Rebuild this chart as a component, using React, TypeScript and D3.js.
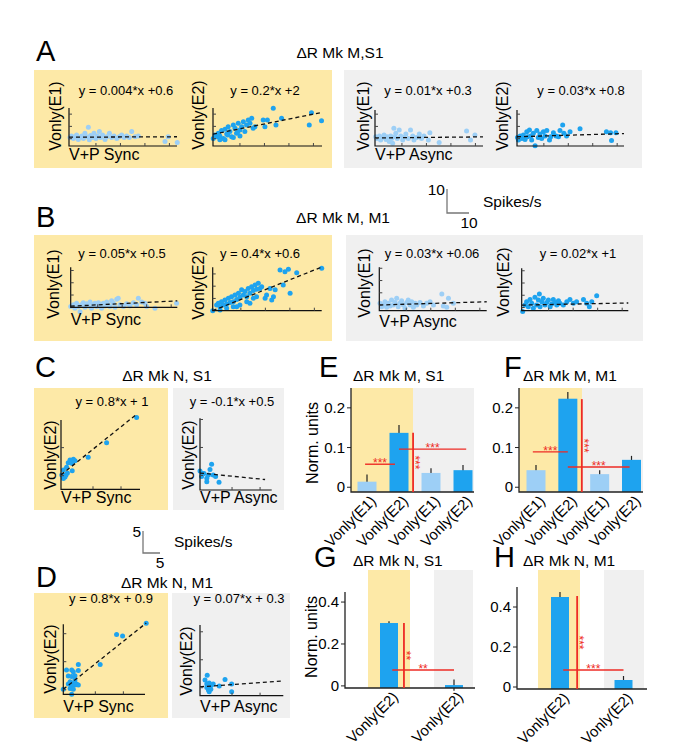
import React from 'react'
import * as d3 from 'd3'

type Pt = [number, number]

const SANS = '"Liberation Sans", Arial, Helvetica, sans-serif'
const YELLOW = '#fde9a7'
const GREY = '#f0f0f0'
const LIGHT = '#9dcff6'
const BLUE = '#1ea3ef'
const RED = '#ee2b24'

// scatter points, spikes/s: [V+P response, Vonly response]
const A_SYNC_E1: Pt[] = [[-0.6,0.5],[0,1.1],[0.8,0.1],[1.5,0.8],[2.1,1.5],[2.8,-0.3],[3.5,0.5],[4.2,1.1],[4.9,0.1],[5.5,2.2],[6.2,0.8],[6.9,4.6],[7.3,-0.5],[7.8,1.3],[8.6,0.5],[9.2,2.2],[10,0.1],[10.6,1.1],[11.4,2.9],[11.9,0.5],[12.7,1.5],[13.7,-0.3],[14.4,0.8],[15.5,2.2],[16.4,0.5],[17.4,1.1],[18.5,0.1],[19.5,0.8],[20.5,1.5],[21.5,0.5],[22.5,1.1],[23.6,0.5],[24.6,2.9],[26,0.8],[27.3,1.1],[38.2,-1.2],[39.5,0.8],[43.2,-1.6]]
const A_SYNC_E2: Pt[] = [[-0.9,0.1],[-0.2,1.5],[0.5,0.8],[1.2,2.2],[1.8,1.1],[2.5,3.3],[3.2,0.1],[3.9,3.8],[4.6,1.9],[5.2,4.9],[5.9,2.9],[6.6,0.8],[7.3,5.6],[8,4.2],[8.6,2.2],[9.3,6.3],[10,3.5],[10.7,4.9],[11.4,6.9],[12,2.9],[12.7,5.6],[13.4,7.6],[14.1,6.3],[14.8,8.3],[15.4,4.2],[16.1,4.9],[19.5,7.6],[20.2,4.9],[21.2,7.6],[23.6,12.4],[24.7,5.6],[27,8.3],[38.3,5.6],[39.2,10.6],[43.3,7.3],[3.9,-0.5],[7.3,0.5],[10,1.1],[1.8,-0.5],[5,1.5],[9,2.5]]
const A_ASYNC_E1: Pt[] = [[-0.7,0.8],[-0.2,0.1],[0.8,1.1],[1.3,-0.55],[2.1,0.5],[2.7,1.5],[3.5,-0.3],[4,0.8],[4.8,-1.2],[5.4,1.1],[5.8,0.1],[6.2,-1.9],[6.7,4.2],[7.1,0.8],[7.5,2.2],[8.1,0.1],[8.9,3.5],[9.5,1.1],[10.3,-0.55],[10.8,0.5],[11.6,1.9],[12.6,0.1],[13.5,3.5],[14.4,1.1],[14.9,-0.55],[16,0.5],[17.1,1.9],[18,0.1],[19,1.1],[20.8,-0.55],[21.4,2.45],[25.2,-1.6],[36.4,3.1],[38,-0.55],[39.8,1.5]]
const A_ASYNC_E2: Pt[] = [[-0.8,0.5],[-0.4,-0.55],[0.3,1.1],[1,0.1],[1.6,1.5],[2.3,-0.3],[3,2.85],[3.3,0.8],[4.1,3.5],[4.6,1.1],[5,-0.55],[5.7,2.2],[6.4,-2.9],[7.1,3.3],[7.7,0.5],[8.4,1.9],[9.1,0.1],[9.8,2.85],[10.5,1.1],[11.2,3.3],[12.3,-0.55],[12.8,0.8],[13.9,2.45],[15,1.1],[16,0.8],[16.6,3.3],[17.7,5.6],[18.2,2.2],[19.3,1.1],[20.7,2.85],[24.8,4],[35.6,2.85],[37.3,2.45],[37.7,-0.8],[39.5,2.45]]
const B_SYNC_E1: Pt[] = [[-1,0.3],[0.1,1],[0.7,-0.4],[1.4,1.6],[2.1,0.3],[2.8,-1.8],[3.4,1],[4.1,1.9],[4.8,0],[5.5,1.4],[6.2,0.55],[6.9,2.2],[7.5,-0.4],[8.2,1],[8.9,1.6],[9.6,0.3],[10.3,1.9],[11,1],[11.6,-0.4],[12.3,1.6],[13,0.55],[13.7,2.2],[14.3,1],[15,0.3],[15.7,2.7],[16.4,1.6],[17.1,0],[17.8,3.3],[18.4,3.7],[19.1,1],[20.5,0.3],[21.8,1.4],[23.2,0.55],[24.6,1.9],[25.9,1],[26.6,3.7],[28,2.2],[29.3,1.6],[30,0.3],[33.4,-0.4],[42.2,1.6]]
const B_SYNC_E2: Pt[] = [[-1.5,0],[0.1,2.3],[0.8,3],[1.5,1.65],[2.1,3.7],[2.8,2.3],[3.5,4.4],[4.2,2.7],[4.9,5.05],[5.6,3.3],[6.2,5.7],[6.9,3.7],[7.6,6.4],[8.3,4.6],[9,7.1],[9.6,5.5],[10.3,8.5],[11,6.4],[11.7,7.8],[12.4,5.7],[13,9.1],[13.7,7.1],[14.4,9.8],[15.1,8.2],[15.8,10.5],[16.4,8.7],[17.1,11.2],[17.8,9.1],[18.5,9.8],[19.9,5.05],[20.5,6.4],[21.9,9.1],[22.6,4.4],[23.3,5.7],[24,8.5],[26,16.6],[27.3,10.5],[28,15.9],[29.4,16.9],[30.1,7.1],[32.8,15.5],[43,17.3],[1.5,0.3],[4.2,1],[6.9,1.65],[9.6,2.3],[12.4,3.7],[15.1,5.05],[8.3,1.65],[13.7,3],[16.4,5.7]]
const B_ASYNC_E1: Pt[] = [[-0.7,0.7],[0,-0.65],[0.65,0.03],[1.3,1.4],[2,-0.9],[2.7,0.7],[3.4,-0.4],[4,2.07],[4.7,0.03],[5.4,1],[6.1,2.75],[6.7,-0.65],[7.4,0.7],[8.1,1.8],[8.8,0.03],[9.5,-1.3],[10.2,1],[10.8,2.07],[11.5,0.03],[12.2,1.4],[12.9,-0.9],[13.6,0.7],[14.3,0.03],[15.6,1],[17,-0.4],[18.3,0.7],[19.7,1.4],[21.1,0.03],[24.5,4.5],[25.1,-0.4],[26.5,-0.9],[27.2,2.75],[29.2,0.7]]
const B_ASYNC_E2: Pt[] = [[-0.6,-1.6],[0.35,1.03],[1,2.4],[1.7,0.35],[2.4,3.3],[3.1,1.7],[3.75,-0.3],[4.4,4.2],[5.1,1.03],[5.8,3.1],[6.2,5.5],[6.5,0.35],[7.2,2.4],[7.8,3.75],[8.5,1.03],[9.2,2],[9.9,3.1],[10.6,0.35],[11.2,1.4],[11.9,3.3],[12.6,2],[13.3,1.03],[14,2.8],[14.6,1.7],[16,1.03],[17.4,2.4],[18.7,3.3],[20.1,1.7],[21.4,2.4],[24.2,3.3],[25.5,1.7],[26.6,0.35],[27.6,2.4],[29.6,4.8]]
const C_SYNC_E2: Pt[] = [[17.9,14.5],[10.4,8.2],[5.8,4.6],[1.8,1.2],[0.4,2.1],[0.8,3.2],[1.25,3.9],[2.1,4.1],[1.7,3.1],[-0.4,1.4],[-0.8,0.15],[0,-0.3],[-0.4,-0.7],[0.25,0.15],[0.6,0.7],[2.5,3.7]]
const C_ASYNC_E2: Pt[] = [[-1,1.1],[-0.6,-0.3],[0,0.5],[0.7,-0.7],[1.1,0.1],[1.5,1.5],[1.9,2.8],[2.3,0.1],[2.9,-0.3],[3.75,-1.7],[0.7,-1.6],[-0.3,0.5]]
const D_SYNC_E2: Pt[] = [[19.7,16.6],[12.3,13.8],[13.8,13.4],[8.2,6.3],[2.75,6.3],[-0.2,4.9],[1.1,4.9],[1.5,4.5],[0.25,3.4],[1.1,3.3],[1.9,3.5],[0.7,2],[1.5,1.6],[2.3,1.4],[0.25,1.4],[1.1,0.8],[1.9,1.2],[2.75,1.2],[0.7,0.3],[1.5,0.1],[-1,0.1],[1.1,-1.15],[1.9,2.4],[2.75,4.8]]
const D_ASYNC_E2: Pt[] = [[0.8,3.15],[0.25,1.9],[1.3,1.2],[1.9,0.65],[0.7,0.07],[1.1,-0.6],[1.7,-0.4],[2.3,0.9],[3.8,0.4],[5.25,2.05],[6.9,0.9],[6.9,-1],[1.3,-1],[0.7,0.9],[1.5,0.23]]

// linear fits [slope, intercept] and their printed labels
const FIT_A = [[0.004, 0.6], [0.2, 2], [0.01, 0.3], [0.03, 0.8]]
const FIT_B = [[0.05, 0.5], [0.4, 0.6], [0.03, 0.06], [0.02, 1]]
const FIT_C = [[0.8, 1], [-0.1, 0.5]]
const FIT_D = [[0.8, 0.9], [0.07, 0.3]]
const EQ_A = ['y = 0.004*x +0.6', 'y = 0.2*x +2', 'y = 0.01*x +0.3', 'y = 0.03*x +0.8']
const EQ_B = ['y = 0.05*x +0.5', 'y = 0.4*x +0.6', 'y = 0.03*x +0.06', 'y = 0.02*x +1']
const EQ_C = ['y = 0.8*x + 1', 'y = -0.1*x +0.5']
const EQ_D = ['y = 0.8*x + 0.9', 'y = 0.07*x + 0.3']

// bar panels (normalised units)
const LABELS_4 = ['Vonly(E1)', 'Vonly(E2)', 'Vonly(E1)', 'Vonly(E2)']
const LABELS_2 = ['Vonly(E2)', 'Vonly(E2)']
const E_VALUES = [0.014, 0.137, 0.036, 0.043]
const E_ERRORS = [0.018, 0.02, 0.012, 0.013]
const F_VALUES = [0.043, 0.223, 0.033, 0.069]
const F_ERRORS = [0.013, 0.017, 0.01, 0.01]
const G_VALUES = [0.3, 0.004]
const G_ERRORS = [0.008, 0.027]
const H_VALUES = [0.45, 0.035]
const H_ERRORS = [0.025, 0.02]
const TICKS_EF = [0, 0.1, 0.2]
const TICKS_GH = [0, 0.2, 0.4]
// significance: horizontal [from bar, to bar, level], vertical [at bar, top level]
const E_SIG_H = [[-0.06, 0.875, 0.058], [1, 3.1, 0.096]]
const E_SIG_V = [1.44, 0.137]
const F_SIG_H = [[-0.1, 1, 0.089], [1, 2.94, 0.051]]
const F_SIG_V = [1.44, 0.222]
const G_SIG_H = [[0.05, 1, 0.076]]
const G_SIG_V = [0.23, 0.3]
const H_SIG_H = [[0.05, 1, 0.085]]
const H_SIG_V = [0.27, 0.455]

interface ScatterProps {
  x0: number; x1: number; yTop: number; yBot: number
  xDom: [number, number]; yDom: [number, number]
  pts: Pt[]; fit: number[]; fitTo?: number; color: string
  eq: string; eqX: number; eqY: number
  yLab: string; yLabX: number; yLabY: number
  xLab?: string; xLabY?: number
  step: [number, number]
}

function Scatter(p: ScatterProps) {
  const x = d3.scaleLinear().domain(p.xDom).range([p.x0, p.x1])
  const y = d3.scaleLinear().domain(p.yDom).range([p.yBot, p.yTop])
  const fitLine = d3.line<number>().x(d => x(d)).y(d => y(p.fit[0] * d + p.fit[1]))
  const xTicks = d3.range(p.step[0], p.xDom[1], p.step[0])
  const yTicks = d3.range(0, p.yDom[1], p.step[1]).filter(v => v > p.yDom[0])
  return (
    <g>
      {p.pts.map((d, i) => <circle key={i} cx={x(d[0])} cy={y(d[1])} r={2.5} fill={p.color} />)}
      <path d={fitLine([p.xDom[0], p.fitTo ?? p.xDom[1]]) ?? ''} fill="none" stroke="#111" strokeWidth={1.3} strokeDasharray="4 3" />
      <path d={`M${p.x0},${p.yTop}V${p.yBot}H${p.x1}`} fill="none" stroke="#111" strokeWidth={1.2} />
      {xTicks.map(t => <line key={'x' + t} x1={x(t)} x2={x(t)} y1={p.yBot} y2={p.yBot - 3} stroke="#444" />)}
      {yTicks.map(t => <line key={'y' + t} x1={p.x0} x2={p.x0 + 3} y1={y(t)} y2={y(t)} stroke="#444" />)}
      <text x={p.eqX} y={p.eqY} textAnchor="middle" fontSize={13}>{p.eq}</text>
      <text transform={`translate(${p.yLabX},${p.yLabY}) rotate(-90)`} textAnchor="middle" fontSize={16}>{p.yLab}</text>
      {p.xLab && <text x={p.x0} y={p.xLabY} fontSize={16}>{p.xLab}</text>}
    </g>
  )
}

interface BarProps {
  x0: number; x1: number; yTop: number; yBot: number; yDom: [number, number]
  c0: number; c1: number; bw: number
  vals: number[]; errs: number[]; colors: string[]; labels: string[]
  ticks: number[]; bgs: [number, number, string][]; bgTop: number
  sigH: number[][]; sigV: number[]; stars: string
}

function BarPanel(p: BarProps) {
  const x = d3.scaleLinear().domain([0, p.vals.length - 1]).range([p.c0, p.c1])
  const y = d3.scaleLinear().domain(p.yDom).range([p.yBot, p.yTop])
  const vTop = y(p.sigV[1])
  return (
    <g>
      {p.bgs.map((b, i) => <rect key={i} x={b[0]} y={p.bgTop} width={b[1] - b[0]} height={p.yBot - p.bgTop} fill={b[2]} />)}
      {p.vals.map((v, i) => (
        <line key={'e' + i} x1={x(i)} x2={x(i)} y1={y(v - p.errs[i])} y2={y(v + p.errs[i])} stroke="#222" strokeWidth={1.2} />
      ))}
      {p.vals.map((v, i) => (
        <rect key={'b' + i} x={x(i) - p.bw / 2} y={y(v)} width={p.bw} height={p.yBot - y(v)} fill={p.colors[i]} />
      ))}
      <path d={`M${p.x0},${p.yTop}V${p.yBot}H${p.x1}`} fill="none" stroke="#222" strokeWidth={1.3} />
      {p.ticks.map(t => (
        <g key={t}>
          <line x1={p.x0 - 4} x2={p.x0} y1={y(t)} y2={y(t)} stroke="#222" />
          <text x={p.x0 - 6} y={y(t)} dy="0.35em" textAnchor="end" fontSize={15}>{String(t)}</text>
        </g>
      ))}
      {p.labels.map((l, i) => (
        <text key={'l' + i} transform={`translate(${x(i) + 10},${p.yBot + 10}) rotate(-45)`} textAnchor="end" fontSize={15}>{l}</text>
      ))}
      {p.sigH.map((s, i) => (
        <g key={'h' + i}>
          <line x1={x(s[0])} x2={x(s[1])} y1={y(s[2])} y2={y(s[2])} stroke={RED} strokeWidth={1.4} />
          <text x={(x(s[0]) + x(s[1])) / 2} y={y(s[2]) + 3} textAnchor="middle" fontSize={12} fill={RED}>{p.stars}</text>
        </g>
      ))}
      <line x1={x(p.sigV[0])} x2={x(p.sigV[0])} y1={vTop} y2={p.yBot} stroke={RED} strokeWidth={1.8} />
      <text transform={`translate(${x(p.sigV[0]) - 2},${(vTop + p.yBot) / 2}) rotate(90)`} textAnchor="middle" fontSize={12} fill={RED}>{p.stars}</text>
    </g>
  )
}

function ScaleBar({ x, y, w, h, a, b }: { x: number; y: number; w: number; h: number; a: string; b: string }) {
  return (
    <g fontSize={15.5}>
      <path d={`M${x},${y - h}V${y}H${x + w}`} fill="none" stroke="#777" strokeWidth={1.3} />
      <text x={x - 2} y={y - h + 6} textAnchor="end">{a}</text>
      <text x={x + w} y={y + 15} textAnchor="middle">{a}</text>
      <text x={x + w + 14} y={y - 6}>{b}</text>
    </g>
  )
}

export default function App() {
  const sync = 'V+P Sync'
  const async = 'V+P Async'
  return (
    <div style={{ position: 'absolute', left: 0, top: 0 }}>
      <svg width={681} height={755} fontFamily={SANS} style={{ display: 'block', background: '#fff' }}>
        {/* panel backgrounds */}
        <rect x={34} y={70} width={298} height={98} fill={YELLOW} />
        <rect x={344} y={70} width={298} height={98} fill={GREY} />
        <rect x={34} y={235} width={298} height={106} fill={YELLOW} />
        <rect x={346} y={235} width={297} height={106} fill={GREY} />
        <rect x={34} y={388} width={134} height={122} fill={YELLOW} />
        <rect x={173} y={388} width={111} height={122} fill={GREY} />
        <rect x={34} y={593} width={134} height={125} fill={YELLOW} />
        <rect x={172} y={593} width={118} height={125} fill={GREY} />

        {/* panel letters */}
        <g fontSize={29}>
          <text x={36} y={61}>A</text>
          <text x={36} y={227}>B</text>
          <text x={35} y={377}>C</text>
          <text x={36} y={587}>D</text>
          <text x={319} y={377}>E</text>
          <text x={504} y={377}>F</text>
          <text x={314} y={567}>G</text>
          <text x={494} y={567}>H</text>
        </g>

        {/* titles */}
        <g fontSize={15.5}>
          <text x={340} y={58} textAnchor="middle">ΔR Mk M,S1</text>
          <text x={343} y={223} textAnchor="middle">ΔR Mk M, M1</text>
          <text x={167} y={381} textAnchor="middle">ΔR Mk N, S1</text>
          <text x={167} y={588} textAnchor="middle">ΔR Mk N, M1</text>
          <text x={353} y={381}>ΔR Mk M, S1</text>
          <text x={523} y={381}>ΔR Mk M, M1</text>
          <text x={353} y={566}>ΔR Mk N, S1</text>
          <text x={523} y={566}>ΔR Mk N, M1</text>
        </g>

        <ScaleBar x={447} y={213} w={22} h={24} a="10" b="Spikes/s" />
        <ScaleBar x={143} y={553} w={17} h={22} a="5" b="Spikes/s" />

        {/* A */}
        <Scatter x0={69} x1={177} yTop={108} yBot={146} xDom={[-1, 43.1]} yDom={[-3, 12.5]} pts={A_SYNC_E1} fit={FIT_A[0]} color={LIGHT}
          eq={EQ_A[0]} eqX={126} eqY={95} yLab="Vonly(E1)" yLabX={61} yLabY={116} xLab={sync} xLabY={160} step={[10, 5]} />
        <Scatter x0={213} x1={322} yTop={108} yBot={146} xDom={[-1, 43.5]} yDom={[-3, 12.5]} pts={A_SYNC_E2} fit={FIT_A[1]} color={BLUE}
          eq={EQ_A[1]} eqX={265} eqY={95} yLab="Vonly(E2)" yLabX={204} yLabY={115} step={[10, 5]} />
        <Scatter x0={375} x1={483} yTop={110} yBot={146} xDom={[-1, 43.1]} yDom={[-3, 11.7]} pts={A_ASYNC_E1} fit={FIT_A[2]} color={LIGHT}
          eq={EQ_A[2]} eqX={428} eqY={95} yLab="Vonly(E1)" yLabX={369} yLabY={116} xLab={async} xLabY={160} step={[10, 5]} />
        <Scatter x0={517} x1={624} yTop={110} yBot={146} xDom={[-1, 42.8]} yDom={[-3, 11.7]} pts={A_ASYNC_E2} fit={FIT_A[3]} color={BLUE}
          eq={EQ_A[3]} eqX={581} eqY={95} yLab="Vonly(E2)" yLabX={508} yLabY={116} step={[10, 5]} />

        {/* B */}
        <Scatter x0={70.7} x1={177.3} yTop={267.3} yBot={307.3} xDom={[-1, 42.5]} yDom={[0, 16.3]} pts={B_SYNC_E1} fit={FIT_B[0]} color={LIGHT}
          eq={EQ_B[0]} eqX={122} eqY={258} yLab="Vonly(E1)" yLabX={59} yLabY={284} xLab={sync} xLabY={325} step={[10, 5]} />
        <Scatter x0={212.7} x1={321.7} yTop={267.3} yBot={310.7} xDom={[-1.5, 43]} yDom={[0, 17.7]} pts={B_SYNC_E2} fit={FIT_B[1]} color={BLUE}
          eq={EQ_B[1]} eqX={260} eqY={258} yLab="Vonly(E2)" yLabX={204} yLabY={285} step={[10, 5]} />
        <Scatter x0={379.3} x1={486.7} yTop={267.3} yBot={310.7} xDom={[-1, 42.8]} yDom={[-2.3, 15.4]} pts={B_ASYNC_E1} fit={FIT_B[2]} color={LIGHT}
          eq={EQ_B[2]} eqX={432} eqY={258} yLab="Vonly(E1)" yLabX={370} yLabY={283} xLab={async} xLabY={327} step={[10, 5]} />
        <Scatter x0={521.7} x1={628.3} yTop={268.3} yBot={310.7} xDom={[-1, 42.5]} yDom={[-1.3, 16]} pts={B_ASYNC_E2} fit={FIT_B[3]} color={BLUE}
          eq={EQ_B[3]} eqX={578} eqY={258} yLab="Vonly(E2)" yLabX={509} yLabY={282} step={[10, 5]} />

        {/* C */}
        <Scatter x0={61} x1={140} yTop={420} yBot={489.3} xDom={[-1, 18.75]} yDom={[-3.4, 13.9]} pts={C_SYNC_E2} fit={FIT_C[0]} fitTo={17.9} color={BLUE}
          eq={EQ_C[0]} eqX={112} eqY={406} yLab="Vonly(E2)" yLabX={56} yLabY={455} xLab={sync} xLabY={503} step={[7, 7]} />
        <Scatter x0={200} x1={271.7} yTop={418.3} yBot={490} xDom={[-1, 16.9]} yDom={[-3.65, 14.3]} pts={C_ASYNC_E2} fit={FIT_C[1]} fitTo={15.25} color={BLUE}
          eq={EQ_C[1]} eqX={232} eqY={406} yLab="Vonly(E2)" yLabX={194} yLabY={455} xLab={async} xLabY={503} step={[7, 7]} />

        {/* D */}
        <Scatter x0={63.3} x1={145} yTop={624.3} yBot={694.3} xDom={[-1, 19.4]} yDom={[-1.15, 16.35]} pts={D_SYNC_E2} fit={FIT_D[0]} fitTo={19.7} color={BLUE}
          eq={EQ_D[0]} eqX={111} eqY={603} yLab="Vonly(E2)" yLabX={56} yLabY={659} xLab={sync} xLabY={712} step={[7, 7]} />
        <Scatter x0={200} x1={283.3} yTop={625} yBot={695.7} xDom={[-1, 19.8]} yDom={[-2, 15.7]} pts={D_ASYNC_E2} fit={FIT_D[1]} color={BLUE}
          eq={EQ_D[1]} eqX={239} eqY={603} yLab="Vonly(E2)" yLabX={192} yLabY={661} xLab={async} xLabY={712} step={[7, 7]} />

        {/* E-H */}
        <BarPanel x0={351} x1={474} yTop={388} yBot={492} yDom={[-0.012, 0.25]} c0={367} c1={463} bw={19}
          vals={E_VALUES} errs={E_ERRORS} colors={[LIGHT, BLUE, LIGHT, BLUE]} labels={LABELS_4} ticks={TICKS_EF}
          bgs={[[351, 413, YELLOW], [413, 474, GREY]]} bgTop={388} sigH={E_SIG_H} sigV={E_SIG_V} stars="***" />
        <BarPanel x0={519} x1={643} yTop={388} yBot={492} yDom={[-0.012, 0.25]} c0={536} c1={631.5} bw={19}
          vals={F_VALUES} errs={F_ERRORS} colors={[LIGHT, BLUE, LIGHT, BLUE]} labels={LABELS_4} ticks={TICKS_EF}
          bgs={[[519, 582, YELLOW], [582, 643, GREY]]} bgTop={388} sigH={F_SIG_H} sigV={F_SIG_V} stars="***" />
        <BarPanel x0={345} x1={475} yTop={592} yBot={688} yDom={[-0.01, 0.448]} c0={389} c1={454} bw={18}
          vals={G_VALUES} errs={G_ERRORS} colors={[BLUE, BLUE]} labels={LABELS_2} ticks={TICKS_GH}
          bgs={[[368, 410, YELLOW], [434, 473, GREY]]} bgTop={570} sigH={G_SIG_H} sigV={G_SIG_V} stars="**" />
        <BarPanel x0={517} x1={647} yTop={587} yBot={689} yDom={[-0.01, 0.5]} c0={560} c1={623.5} bw={18}
          vals={H_VALUES} errs={H_ERRORS} colors={[BLUE, BLUE]} labels={LABELS_2} ticks={TICKS_GH}
          bgs={[[538, 580, YELLOW], [604, 644, GREY]]} bgTop={570} sigH={H_SIG_H} sigV={H_SIG_V} stars="***" />

        <g fontSize={16}>
          <text transform="translate(318,443) rotate(-90)" textAnchor="middle">Norm. units</text>
          <text transform="translate(317,637) rotate(-90)" textAnchor="middle">Norm. units</text>
        </g>
      </svg>
    </div>
  )
}
